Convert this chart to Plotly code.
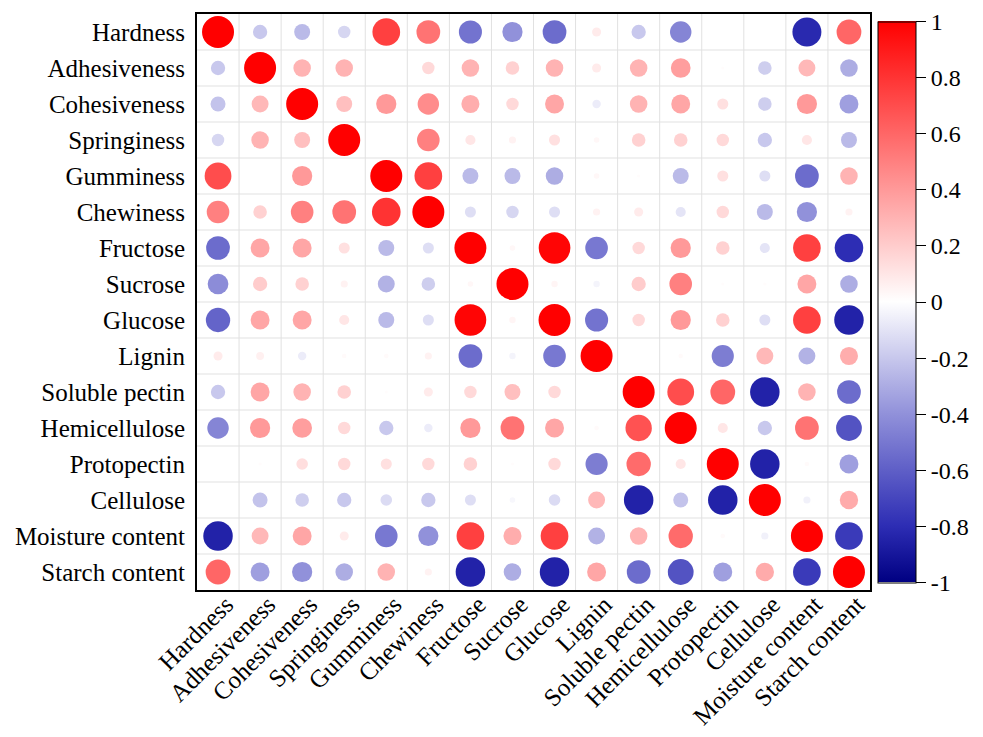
import numpy as np
import plotly.graph_objects as go

variables = ["Hardness", "Adhesiveness", "Cohesiveness", "Springiness", "Gumminess",
             "Chewiness", "Fructose", "Sucrose", "Glucose", "Lignin", "Soluble pectin",
             "Hemicellulose", "Protopectin", "Cellulose", "Moisture content", "Starch content"]

r_hardness      = [1.00, -0.20, -0.25, -0.15, 0.75, 0.55, -0.52, -0.40, -0.55, 0.08, -0.20, -0.45, 0.00, 0.00, -0.82, 0.60]
r_adhesiveness  = [-0.20, 1.00, 0.30, 0.30, 0.00, 0.15, 0.30, 0.18, 0.30, 0.08, 0.30, 0.38, 0.01, -0.18, 0.28, -0.30]
r_cohesiveness  = [-0.22, 0.28, 1.00, 0.25, 0.40, 0.45, 0.32, 0.15, 0.35, -0.07, 0.30, 0.35, 0.12, -0.18, 0.40, -0.35]
r_springiness   = [-0.15, 0.30, 0.25, 1.00, 0.00, 0.50, 0.10, 0.05, 0.12, 0.03, 0.18, 0.18, 0.15, -0.20, 0.10, -0.25]
r_gumminess     = [0.70, 0.00, 0.40, 0.00, 1.00, 0.75, -0.25, -0.25, -0.30, 0.03, 0.01, -0.25, 0.12, -0.12, -0.55, 0.30]
r_chewiness     = [0.50, 0.18, 0.50, 0.55, 0.80, 1.00, -0.12, -0.15, -0.12, 0.05, 0.08, -0.10, 0.15, -0.25, -0.40, 0.05]
r_fructose      = [-0.55, 0.35, 0.35, 0.12, -0.25, -0.12, 1.00, 0.03, 0.98, -0.50, 0.15, 0.40, 0.18, -0.10, 0.75, -0.80]
r_sucrose       = [-0.42, 0.20, 0.18, 0.05, -0.28, -0.18, 0.03, 1.00, 0.04, -0.04, 0.20, 0.50, 0.01, 0.01, 0.35, -0.30]
r_glucose       = [-0.58, 0.35, 0.35, 0.10, -0.25, -0.12, 0.98, 0.04, 1.00, -0.52, 0.15, 0.40, 0.18, -0.12, 0.75, -0.85]
r_lignin        = [0.08, 0.06, -0.07, 0.02, 0.02, 0.05, -0.55, -0.04, -0.50, 1.00, 0.00, 0.02, -0.48, 0.28, -0.28, 0.32]
r_soluble       = [-0.20, 0.35, 0.30, 0.18, 0.01, 0.08, 0.15, 0.25, 0.15, 0.00, 1.00, 0.70, 0.60, -0.85, 0.30, -0.55]
r_hemicellulose = [-0.45, 0.40, 0.38, 0.15, -0.20, -0.07, 0.40, 0.55, 0.35, 0.02, 0.68, 1.00, 0.10, -0.20, 0.55, -0.65]
r_protopectin   = [0.00, 0.01, 0.13, 0.15, 0.12, 0.15, 0.18, 0.01, 0.15, -0.48, 0.58, 0.10, 1.00, -0.85, 0.02, -0.35]
r_cellulose     = [0.00, -0.22, -0.18, -0.20, -0.13, -0.20, -0.12, -0.03, -0.13, 0.28, -0.85, -0.22, -0.85, 1.00, -0.05, 0.33]
r_moisture      = [-0.85, 0.28, 0.35, 0.08, -0.50, -0.40, 0.75, 0.32, 0.75, -0.28, 0.30, 0.58, 0.02, -0.05, 1.00, -0.75]
r_starch        = [0.60, -0.35, -0.40, -0.30, 0.30, 0.05, -0.85, -0.30, -0.85, 0.35, -0.55, -0.65, -0.35, 0.33, -0.75, 1.00]

rows = [r_hardness, r_adhesiveness, r_cohesiveness, r_springiness, r_gumminess, r_chewiness,
        r_fructose, r_sucrose, r_glucose, r_lignin, r_soluble, r_hemicellulose, r_protopectin,
        r_cellulose, r_moisture, r_starch]

cbar_vals = [1, 0.8, 0.6, 0.4, 0.2, 0, -0.2, -0.4, -0.6, -0.8, -1]
cbar_text = ["1", "0.8", "0.6", "0.4", "0.2", "0", "-0.2", "-0.4", "-0.6", "-0.8", "-1"]

n = len(variables)
xs, ys, vals = [], [], []
for i, row in enumerate(rows):
    for j, v in enumerate(row):
        xs.append(j)
        ys.append(i)
        vals.append(v)
vals = np.array(vals)
sizes = 32 * np.sqrt(np.abs(vals))

colorscale = [
    [0.0, "rgb(0,0,130)"],
    [0.1, "rgb(45,45,180)"],
    [0.3, "rgb(145,145,218)"],
    [0.5, "rgb(255,255,255)"],
    [1.0, "rgb(255,0,0)"],
]

FONT = "Liberation Serif, Times New Roman, serif"

fig = go.Figure()
fig.add_trace(go.Scatter(
    x=xs, y=ys, mode="markers",
    marker=dict(
        size=sizes, sizemode="diameter", color=vals, colorscale=colorscale,
        cmin=-1, cmax=1, line=dict(width=0), opacity=1,
        colorbar=dict(
            x=1.012, xanchor="left", xpad=0, y=0.5, yanchor="middle", ypad=0, len=0.974,
            thickness=38, outlinecolor="black", outlinewidth=1,
            tickvals=cbar_vals, ticktext=cbar_text, ticks="outside", ticklen=10,
            tickcolor="black", tickfont=dict(family=FONT, size=24, color="black"),
        ),
    ),
    hoverinfo="skip",
))

shapes = []
for k in range(n - 1):
    shapes.append(dict(type="line", xref="x", yref="paper", x0=k + 0.5, x1=k + 0.5, y0=0, y1=1,
                       line=dict(color="rgb(225,225,225)", width=1), layer="below"))
    shapes.append(dict(type="line", xref="paper", yref="y", x0=0, x1=1, y0=k + 0.5, y1=k + 0.5,
                       line=dict(color="rgb(225,225,225)", width=1), layer="below"))

fig.update_layout(
    width=975, height=729,
    margin=dict(l=189, r=113, t=6, b=147, autoexpand=False),
    plot_bgcolor="white", paper_bgcolor="white",
    showlegend=False,
    shapes=shapes,
    font=dict(family=FONT, size=25, color="black"),
    xaxis=dict(
        range=[-0.5, n - 0.5], tickmode="array", tickvals=list(range(n)), ticktext=variables,
        tickangle=-45, showgrid=False, zeroline=False, showline=True, mirror=True,
        linecolor="black", linewidth=2, ticks="", tickfont=dict(family=FONT, size=25),
        automargin=False, ticklabelstandoff=-12, ticklabelshift=8,
    ),
    yaxis=dict(
        range=[n - 0.5, -0.5], tickmode="array", tickvals=list(range(n)), ticktext=variables,
        showgrid=False, zeroline=False, showline=True, mirror=True,
        linecolor="black", linewidth=2, ticks="", tickfont=dict(family=FONT, size=25),
        ticklabelstandoff=5, automargin=False,
    ),
)

fig.write_html("out.html")
